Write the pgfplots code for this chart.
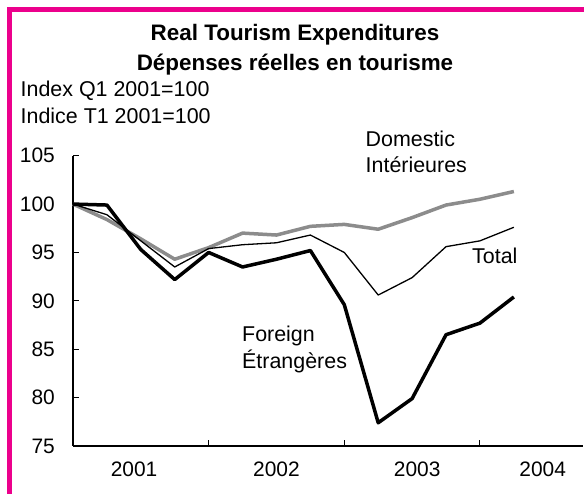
\documentclass[border=0pt]{standalone}
\usepackage{fontspec}
\setmainfont{Liberation Sans}
\usepackage{pgfplots}
\pgfplotsset{compat=1.18}
\definecolor{pinkc}{RGB}{236,0,140}
\definecolor{grayline}{RGB}{140,140,140}
\newcommand{\lab}{\fontsize{21.5}{25}\selectfont}
\newcommand{\ttl}{\fontsize{22.5}{27}\selectfont\bfseries}
\pgfplotstableread{
q dom tot for
0  100.0 100.0 100.0
1  98.4  98.9  99.9
2  96.4  96.2  95.3
3  94.3  93.5  92.2
4  95.5  95.4  95.0
5  97.0  95.8  93.5
6  96.8  96.0  94.3
7  97.7  96.8  95.2
8  97.9  95.0  89.6
9  97.4  90.6  77.4
10 98.6  92.4  79.9
11 99.9  95.6  86.5
12 100.5 96.2  87.7
13 101.3 97.6  90.4
}\datatable
\begin{document}
\begin{tikzpicture}[x=1bp,y=1bp]
\useasboundingbox (0,0) rectangle (584,494);
\clip (0,0) rectangle (584,494);
\fill[white] (0,0) rectangle (584,494);
\draw[pinkc, line width=5bp] (9.8,-10) -- (9.8,484.2) -- (600,484.2);
\begin{axis}[
  at={(73bp,48bp)}, anchor=south west, scale only axis,
  width=509.7bp, height=290.3bp,
  xmin=0, xmax=15.03, ymin=75, ymax=105,
  axis x line=bottom, axis y line=left,
  axis line style={-, line width=1.2bp, black},
  tick align=inside, major tick length=6bp,
  tick style={black, line width=1bp},
  xtick={0,4,8,12}, xticklabels={,,,},
  extra x ticks={1.8,6.0,10.15,13.85}, extra x tick labels={2001,2002,2003,2004},
  extra x tick style={major tick length=0pt},
  xticklabel style={anchor=base, inner sep=0pt, yshift=-30.7bp},
  ytick={75,80,...,105},
  yticklabel style={anchor=east, inner sep=0pt, xshift=-18bp},
  ticklabel style={font=\fontsize{21}{25}\selectfont},
  /pgf/number format/assume math mode=true,
  clip=false,
]
\addplot[grayline, line width=3.5bp, line join=round] table[x=q, y=dom] {\datatable};
\addplot[black, line width=1.3bp, line join=round] table[x=q, y=tot] {\datatable};
\addplot[black, line width=3.5bp, line join=round] table[x=q, y=for] {\datatable};
\end{axis}
\node[anchor=base, inner sep=0pt, font=\ttl] at (295,453) {Real Tourism Expenditures};
\node[anchor=base, inner sep=0pt, font=\ttl] at (295,423) {Dépenses réelles en tourisme};
\node[anchor=base west, inner sep=0pt, font=\lab] at (20.5,397.3) {Index Q1 2001=100};
\node[anchor=base west, inner sep=0pt, font=\lab] at (20.5,370.7) {Indice T1 2001=100};
\node[anchor=base west, inner sep=0pt, font=\lab] at (365.5,347) {Domestic};
\node[anchor=base west, inner sep=0pt, font=\lab] at (365.5,321) {Intérieures};
\node[anchor=base west, inner sep=0pt, font=\lab] at (472,230) {Total};
\node[anchor=base west, inner sep=0pt, font=\lab] at (242,152.3) {Foreign};
\node[anchor=base west, inner sep=0pt, font=\lab] at (242,125.7) {Étrangères};
\end{tikzpicture}
\end{document}
